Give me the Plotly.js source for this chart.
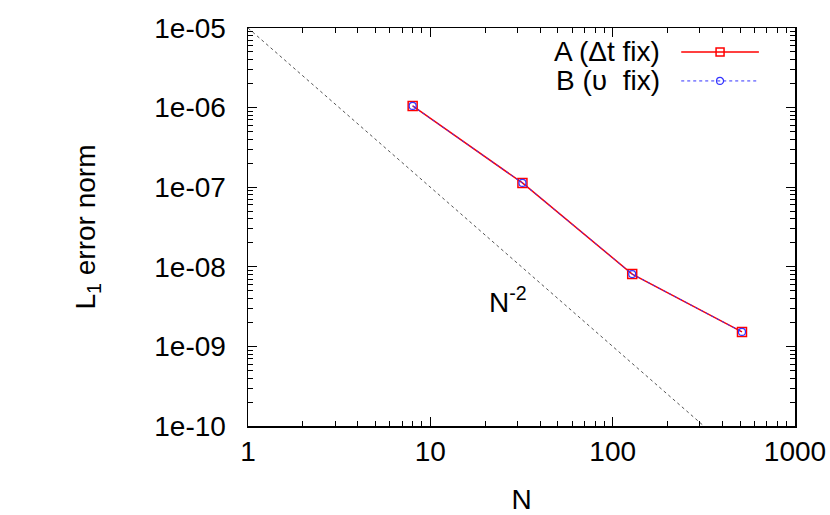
<!DOCTYPE html>
<html>
<head>
<meta charset="utf-8">
<script src="https://cdn.plot.ly/plotly-3.0.1.min.js"></script>
<style>html,body{margin:0;padding:0;background:#fff;}#chart{width:830px;height:515px;}</style>
</head>
<body>
<div id="chart"></div>
<script>
// ---- data ----
const nValues = [8, 32, 128, 512];
const errA = [1.05e-6, 1.13e-7, 8.1e-9, 1.52e-9];
const errB = [1.05e-6, 1.13e-7, 8.1e-9, 1.52e-9];
const refN = [1, 1000];
const refCoef = 1e-5;            // N^-2 guide line: err = 1e-5 * N^-2
const refErr = refN.map(n => refCoef * Math.pow(n, -2));
const xTickVals = [1, 10, 100, 1000];
const xTickText = ['1', '10', '100', '1000'];
const yTickVals = [1e-5, 1e-6, 1e-7, 1e-8, 1e-9, 1e-10];
const yTickText = ['1e-05', '1e-06', '1e-07', '1e-08', '1e-09', '1e-10'];
const legendA = 'A (\u0394t fix)';
const legendB = 'B (\u03c5  fix)';
const refLabel = 'N<sup>-2</sup>';

const FONT = 'Liberation Sans, Arial, Helvetica, sans-serif';
const FS = 28;

const traces = [
  {x: refN, y: refErr, mode: 'lines', line: {color: '#555', width: 1, dash: 'dot'}, hoverinfo: 'skip', showlegend: false},
  {x: nValues, y: errA, mode: 'lines+markers', name: legendA,
   line: {color: '#ff0000', width: 1.5},
   marker: {symbol: 'square-open', size: 9, color: '#ff0000', line: {width: 1.5, color: '#ff0000'}}, showlegend: false},
  {x: nValues, y: errB, mode: 'lines+markers', name: legendB,
   line: {color: '#3333ff', width: 1, dash: 'dot'},
   marker: {symbol: 'circle-open', size: 7, color: '#3333ff', line: {width: 1.2, color: '#3333ff'}}, showlegend: false}
];

const axisCommon = {
  type: 'log', showgrid: false, zeroline: false, showline: true, linecolor: '#000', linewidth: 1.5,
  mirror: 'allticks', ticks: 'inside', ticklen: 9, tickwidth: 1, tickcolor: '#000',
  tickfont: {family: FONT, size: FS, color: '#000'}
};

// legend sample geometry (paper coords)
const lx0 = 0.792, lx1 = 0.934, lxm = 0.863, ly1 = 0.940, ly2 = 0.867, ltx = 0.757;

const layout = {
  width: 830, height: 515,
  margin: {l: 248, r: 35, t: 28, b: 89},
  paper_bgcolor: '#fff', plot_bgcolor: '#fff',
  font: {family: FONT, size: FS, color: '#000'},
  showlegend: false,
  xaxis: Object.assign({}, axisCommon, {
    range: [0, 3], tickvals: xTickVals, ticktext: xTickText, ticklabelstandoff: 0,
    minor: {ticks: 'inside', ticklen: 5, tickwidth: 1, tickcolor: '#000', dtick: 'D1', showgrid: false},
    title: {text: 'N', font: {family: FONT, size: FS}, standoff: 24}
  }),
  yaxis: Object.assign({}, axisCommon, {
    range: [-10, -5], tickvals: yTickVals, ticktext: yTickText, ticklabelstandoff: 15,
    minor: {ticks: 'inside', ticklen: 5, tickwidth: 1, tickcolor: '#000', dtick: 'D1', showgrid: false},
    title: {text: 'L<sub>1</sub> error norm', font: {family: FONT, size: FS}, standoff: 50}
  }),
  annotations: [
    {x: Math.log10(26.5), y: -8.42, xref: 'x', yref: 'y', text: refLabel, showarrow: false,
     font: {family: FONT, size: FS}, xanchor: 'center', yanchor: 'middle'},
    {x: ltx, y: ly1, xref: 'paper', yref: 'paper', text: legendA, showarrow: false,
     font: {family: FONT, size: FS}, xanchor: 'right', yanchor: 'middle'},
    {x: ltx, y: ly2, xref: 'paper', yref: 'paper', text: legendB, showarrow: false,
     font: {family: FONT, size: FS}, xanchor: 'right', yanchor: 'middle'}
  ],
  shapes: [
    {type: 'line', xref: 'paper', yref: 'paper', x0: lx0, x1: lx1, y0: ly1, y1: ly1, line: {color: '#ff0000', width: 1.5}},
    {type: 'rect', xref: 'paper', yref: 'paper', xsizemode: 'pixel', ysizemode: 'pixel', xanchor: lxm, yanchor: ly1,
     x0: -4, x1: 4, y0: -4, y1: 4, line: {color: '#ff0000', width: 1.5}, fillcolor: 'rgba(0,0,0,0)'},
    {type: 'line', xref: 'paper', yref: 'paper', x0: lx0, x1: lx1, y0: ly2, y1: ly2, line: {color: '#3333ff', width: 1, dash: 'dot'}},
    {type: 'circle', xref: 'paper', yref: 'paper', xsizemode: 'pixel', ysizemode: 'pixel', xanchor: lxm, yanchor: ly2,
     x0: -3.5, x1: 3.5, y0: -3.5, y1: 3.5, line: {color: '#3333ff', width: 1.2}, fillcolor: 'rgba(0,0,0,0)'}
  ]
};

Plotly.newPlot('chart', traces, layout, {staticPlot: true, displayModeBar: false});
</script>
</body>
</html>
